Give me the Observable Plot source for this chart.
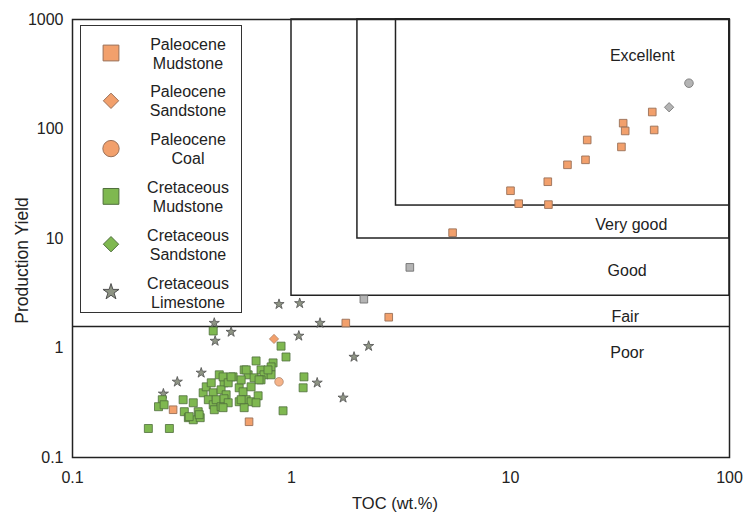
<!DOCTYPE html>
<html><head><meta charset="utf-8">
<script src="https://cdn.jsdelivr.net/npm/d3@7"></script>
<script src="https://cdn.jsdelivr.net/npm/@observablehq/plot@0.6"></script>
<style>
body{margin:0;background:#fff;font-family:"Liberation Sans",Arial,sans-serif;}
#wrap{position:relative;width:743px;height:517px;}
#legend{position:absolute;left:80px;top:25px;width:162px;height:288px;border:1.5px solid #333;background:#fff;box-sizing:border-box;}
#legend svg{display:block;}
</style></head><body><div id="wrap"><div id="chart"></div><div id="legend"></div></div>
<script>
// ---- data (TOC wt.%, Production Yield) ----
const paleoMudTOC = [44.4,45.3,32.7,33.4,32.1,22.4,22.0,18.2,14.8,10.0,10.9,14.9,5.44,2.78,1.77,0.288,0.640];
const paleoMudPY  = [143,98,113,96,68.6,79.4,52.3,47.1,33.0,27.3,20.8,20.4,11.3,1.91,1.69,0.273,0.212];
const paleoSandTOC = [0.832];
const paleoSandPY  = [1.21];
const paleoCoalTOC = [0.877];
const paleoCoalPY  = [0.491];
const grayCircleTOC = [65.3];
const grayCirclePY  = [262];
const grayDiamondTOC = [53.0];
const grayDiamondPY  = [158];
const graySquareTOC = [3.47,2.14];
const graySquarePY  = [5.45,2.79];
const cretMudTOC = [0.439,0.896,0.944,1.14,1.13,0.915,0.222,0.277,0.257,0.247,0.262,0.32,0.324,0.356,0.338,0.356,0.383,0.375,0.395,0.408,0.430,0.439,0.417,0.439,0.453,0.468,0.492,0.477,0.444,0.477,0.341,0.379,0.689,0.824,0.807,0.608,0.726,0.634,0.749,0.807,0.541,0.675,0.726,0.487,0.514,0.577,0.601,0.503,0.492,0.514,0.577,0.621,0.654,0.704,0.689,0.608,0.487,0.530,0.589,0.621,0.781,0.711,0.654,0.589];
const cretMudPY  = [1.43,1.04,0.828,0.545,0.433,0.267,0.184,0.184,0.337,0.291,0.303,0.337,0.262,0.316,0.231,0.221,0.231,0.262,0.390,0.442,0.481,0.390,0.337,0.303,0.337,0.569,0.481,0.415,0.273,0.291,0.236,0.246,0.762,0.731,0.672,0.631,0.631,0.569,0.569,0.569,0.545,0.534,0.512,0.545,0.481,0.433,0.398,0.374,0.344,0.316,0.323,0.337,0.323,0.366,0.316,0.285,0.285,0.545,0.512,0.631,0.631,0.512,0.442,0.337];
const cretLimeTOC = [0.444,0.530,0.448,0.877,1.09,1.35,1.08,2.25,1.93,1.31,1.72,0.387,0.301,0.26];
const cretLimePY  = [1.69,1.40,1.16,2.51,2.56,1.69,1.29,1.04,0.828,0.481,0.351,0.593,0.491,0.382];

const xTicks = [0.1,1,10,100];
const yTicks = [0.1,1,10,100,1000];
const xTitle = "TOC (wt.%)";
const yTitle = "Production Yield";
const boxX1 = [1,2,3];
const boxY1 = [3,10,20];
const fairLine = 1.57;
const regionNames = ["Excellent","Very good","Good","Fair","Poor"];
const regionTOC = [40,35.6,34.1,33.4,34.1];
const regionPY  = [470,13.4,5.1,1.94,0.91];

const legendTop = ["Paleocene","Paleocene","Paleocene","Cretaceous","Cretaceous","Cretaceous"];
const legendBottom = ["Mudstone","Sandstone","Coal","Mudstone","Sandstone","Limestone"];

const pts = (xs, ys) => xs.map((x, i) => ({toc: x, py: ys[i]}));
const boxes = boxX1.map((x1, i) => ({x1, y1: boxY1[i], x2: 100, y2: 1000}));
const regions = regionNames.map((n, i) => ({n, x: regionTOC[i], y: regionPY[i]}));

const ORANGE = "#f2a06c", ORANGE_S = "#9a7058";
const GREEN = "#7fb850", GREEN_S = "#4f6e3c";
const STAR = "#8e9484", STAR_S = "#505050";
const GRAY = "#b4b4b4", GRAY_S = "#707070";

const font = "Liberation Sans, Arial, sans-serif";
const chart = Plot.plot({
  width: 743, height: 517,
  marginLeft: 72, marginRight: 14, marginTop: 19, marginBottom: 60,
  style: {fontFamily: font, fontSize: "16px", background: "transparent", color: "#222"},
  x: {type: "log", domain: [0.1, 100]},
  y: {type: "log", domain: [0.1, 1000]},
  marks: [
    Plot.axisX({ticks: xTicks, tickFormat: d => String(d), tickSize: 0, tickPadding: 14, label: null, fontSize: 16}),
    Plot.axisY({ticks: yTicks, tickFormat: d => String(d), tickSize: 0, tickPadding: 9, label: null, fontSize: 16}),
    Plot.text([xTitle], {frameAnchor: "bottom", dy: 51, dx: -6, fontSize: 16.5, fill: "#222"}),
    Plot.text([yTitle], {frameAnchor: "left", textAnchor: "middle", rotate: -90, dx: -50, dy: 22, fontSize: 17.5, fill: "#222"}),
    Plot.rect(boxes, {x1: "x1", x2: "x2", y1: "y1", y2: "y2", fill: "none", stroke: "#222", strokeWidth: 1.5}),
    Plot.ruleY([fairLine], {stroke: "#222", strokeWidth: 1.5}),
    Plot.text(regions, {x: "x", y: "y", text: "n", fontSize: 16, fill: "#222"}),
    Plot.dot(pts(cretLimeTOC, cretLimePY), {x: "toc", y: "py", symbol: "star", r: 3.2, fill: STAR, stroke: STAR_S, strokeWidth: 0.8}),
    Plot.dot(pts(paleoCoalTOC, paleoCoalPY), {x: "toc", y: "py", symbol: "circle", r: 4.3, fill: ORANGE, stroke: ORANGE_S, strokeWidth: 0.6, fillOpacity: 0.8}),
    Plot.dot(pts(cretMudTOC, cretMudPY), {x: "toc", y: "py", symbol: "square", r: 4.5, fill: GREEN, stroke: GREEN_S, strokeWidth: 0.8}),
    Plot.dot(pts(paleoMudTOC, paleoMudPY), {x: "toc", y: "py", symbol: "square", r: 4.3, fill: ORANGE, stroke: ORANGE_S, strokeWidth: 0.9}),
    Plot.dot(pts(paleoSandTOC, paleoSandPY), {x: "toc", y: "py", symbol: "diamond2", r: 4.2, fill: ORANGE, stroke: ORANGE_S, strokeWidth: 0.6}),
    Plot.dot(pts(graySquareTOC, graySquarePY), {x: "toc", y: "py", symbol: "square", r: 4.3, fill: GRAY, stroke: GRAY_S, strokeWidth: 0.9}),
    Plot.dot(pts(grayCircleTOC, grayCirclePY), {x: "toc", y: "py", symbol: "circle", r: 4.3, fill: GRAY, stroke: GRAY_S, strokeWidth: 0.8}),
    Plot.dot(pts(grayDiamondTOC, grayDiamondPY), {x: "toc", y: "py", symbol: "diamond2", r: 4.2, fill: GRAY, stroke: GRAY_S, strokeWidth: 0.8}),
    Plot.frame({stroke: "#222", strokeWidth: 1.5})
  ]
});
document.getElementById("chart").appendChild(chart);

// ---- legend ----
const legendSym = [
  {t: d3.symbolSquare, s: 250, f: ORANGE, st: ORANGE_S},
  {t: d3.symbolDiamond2, s: 150, f: ORANGE, st: ORANGE_S},
  {t: d3.symbolCircle, s: 210, f: ORANGE, st: ORANGE_S},
  {t: d3.symbolSquare, s: 250, f: GREEN, st: GREEN_S},
  {t: d3.symbolDiamond2, s: 150, f: GREEN, st: GREEN_S},
  {t: d3.symbolStar, s: 80, f: STAR, st: STAR_S}
];
const lsvg = d3.select("#legend").append("svg").attr("width", 160).attr("height", 286)
  .style("font-family", font).style("font-size", "16px").style("fill", "#222");
legendTop.forEach((t, i) => {
  const cy = 27 + i * 47.8;
  const sym = legendSym[i];
  lsvg.append("path").attr("d", d3.symbol(sym.t, sym.s)()).attr("transform", `translate(30,${cy})`)
    .attr("fill", sym.f).attr("stroke", sym.st).attr("stroke-width", 1);
  lsvg.append("text").attr("x", 107).attr("y", cy - 9).attr("text-anchor", "middle").attr("dy", "0.35em").text(t);
  lsvg.append("text").attr("x", 107).attr("y", cy + 10).attr("text-anchor", "middle").attr("dy", "0.35em").text(legendBottom[i]);
});
</script></body></html>
